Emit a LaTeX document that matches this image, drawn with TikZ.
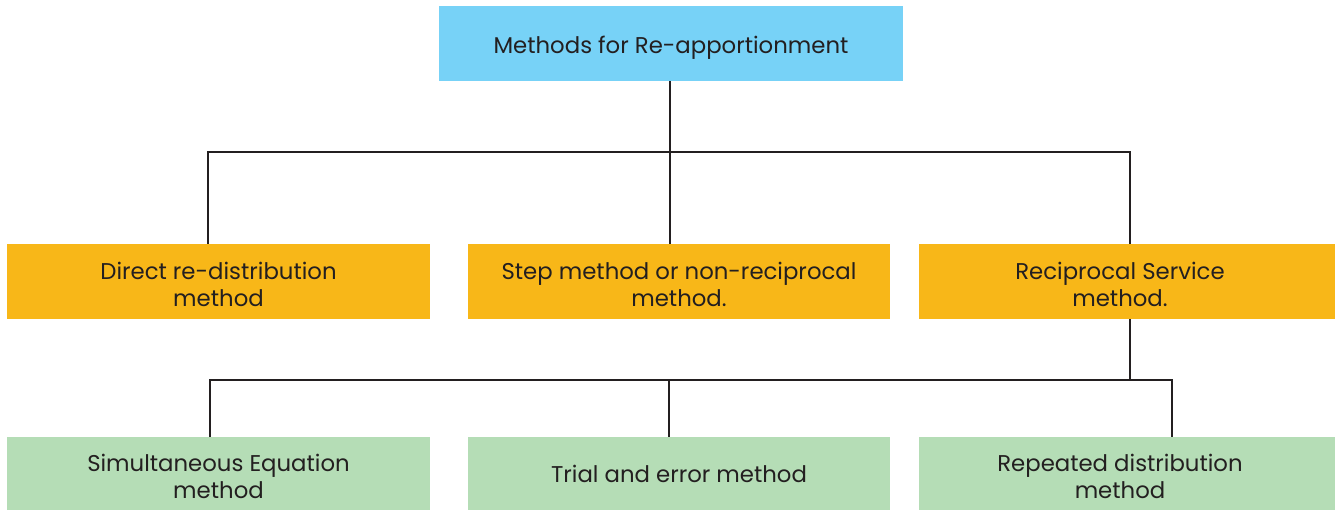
\documentclass[tikz,border=0pt]{standalone}
\usepackage{fontspec}
\setmainfont{Poppins}
\definecolor{topblue}{HTML}{77D2F7}
\definecolor{midorange}{HTML}{F8B718}
\definecolor{lowgreen}{HTML}{B5DDB6}
\definecolor{inkgray}{HTML}{231F20}
\begin{document}
\begin{tikzpicture}[x=1pt,y=-1pt,
  box/.style={draw=none,inner sep=0pt,outer sep=0pt,anchor=north west},
  txt/.style={inner sep=0pt,align=center,text=inkgray,
    font=\fontsize{22.8}{27}\selectfont},
  link/.style={draw=inkgray,line width=2.2pt}]
\useasboundingbox (0,0) rectangle (1336,510);
% top box
\node[box,fill=topblue,minimum width=464pt,minimum height=75pt] (top) at (439,6) {};
% middle row
\node[box,fill=midorange,minimum width=423pt,minimum height=75pt] (m1) at (7,244) {};
\node[box,fill=midorange,minimum width=422pt,minimum height=75pt] (m2) at (468,244) {};
\node[box,fill=midorange,minimum width=416pt,minimum height=75pt] (m3) at (919,244) {};
% bottom row
\node[box,fill=lowgreen,minimum width=423pt,minimum height=73pt] (b1) at (7,437) {};
\node[box,fill=lowgreen,minimum width=422pt,minimum height=73pt] (b2) at (468,437) {};
\node[box,fill=lowgreen,minimum width=416pt,minimum height=73pt] (b3) at (919,437) {};
% labels
\node[txt] (ttop) at ([yshift=-4pt]top.center) {Methods for Re-apportionment};
\node[txt] (tm1) at ([yshift=-3pt]m1.center) {Direct re-distribution\\method};
\node[txt] (tm2) at ([yshift=-3pt]m2.center) {Step method or non-reciprocal\\method.};
\node[txt] (tm3) at ([xshift=-7pt,yshift=-3pt]m3.center) {Reciprocal Service\\method.};
\node[txt] (tb1) at ([yshift=-3pt]b1.center) {Simultaneous Equation\\method};
\node[txt] (tb2) at ([yshift=0pt]b2.center) {Trial and error method};
\node[txt] (tb3) at ([xshift=-7pt,yshift=-3pt]b3.center) {Repeated distribution\\method};
% connectors
\coordinate (j1) at (670,152);
\coordinate (j2) at (1130,380);
\draw[link] (top.south -| j1) -- (j1);
\draw[link] (208,244 |- m1.north) -- (208,152) -- (1130,152) -- (1130,244 |- m3.north);
\draw[link] (j1) -- (j1 |- m2.north);
\draw[link] (j2 |- m3.south) -- (j2);
\draw[link] (210,437 |- b1.north) -- (210,380) -- (1172,380) -- (1172,437 |- b3.north);
\draw[link] (669,380) -- (669,437 |- b2.north);
\end{tikzpicture}
\end{document}
